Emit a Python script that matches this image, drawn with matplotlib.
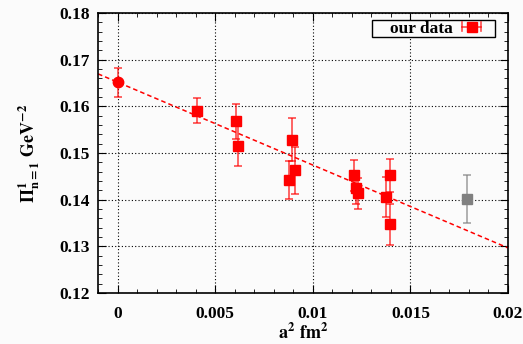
import numpy as np
import matplotlib
matplotlib.use("Agg")
import matplotlib.pyplot as plt
from matplotlib.ticker import MultipleLocator
from matplotlib.legend_handler import HandlerBase
from matplotlib.lines import Line2D
from matplotlib.patches import Rectangle

plt.rcParams['font.family'] = ['Liberation Serif', 'DejaVu Serif']
plt.rcParams['font.weight'] = 'bold'
plt.rcParams['mathtext.fontset'] = 'stix'

# lattice data (a^2 in fm^2)
a2 = [0.00407, 0.00609, 0.00617, 0.00893, 0.00910, 0.00880,
      0.01212, 0.01222, 0.01233, 0.01377, 0.01398, 0.01394]
pi_val = [0.1591, 0.1568, 0.1516, 0.1529, 0.1463, 0.1443,
          0.1452, 0.1426, 0.1414, 0.1406, 0.1452, 0.1347]
pi_err = [0.0027, 0.0038, 0.0043, 0.0047, 0.0051, 0.0041,
          0.0034, 0.0035, 0.0033, 0.0042, 0.0035, 0.0043]

# continuum extrapolation
a2_cont = 0.0
pi_cont = 0.1652
pi_cont_err = 0.0031

# excluded point
a2_excl = 0.01788
pi_excl = 0.1402
pi_excl_err = 0.0051

# linear fit
fit_a = 0.1652
fit_b = -1.776

RED_BAR = (1, 0, 0, 0.7)


class KeyHandler(HandlerBase):
    # gnuplot-like key sample: horizontal bar with caps and a square
    def create_artists(self, legend, orig_handle, xdescent, ydescent,
                       width, height, fontsize, trans):
        y = height / 2 - ydescent
        x0, x1 = -xdescent, width - xdescent
        xm = (x0 + x1) / 2
        bar = Line2D([x0, x1], [y, y], color=RED_BAR, lw=1.2, transform=trans)
        c1 = Line2D([x0, x0], [y - 3, y + 3], color=RED_BAR, lw=1.2, transform=trans)
        c2 = Line2D([x1, x1], [y - 3, y + 3], color=RED_BAR, lw=1.2, transform=trans)
        sq = Line2D([xm], [y], marker='s', ms=7.2, color='red', ls='none', transform=trans)
        return [bar, c1, c2, sq]


fig = plt.figure(figsize=(5.23, 3.44), dpi=100, facecolor='#fbfbfb')
ax = fig.add_axes([0.1874, 0.148, 0.7839, 0.814])
ax.set_facecolor('#fbfbfb')

xx = np.array([-0.001, 0.02])
ax.plot(xx, fit_a + fit_b * xx, '--', color='red', lw=1.1, dashes=(3, 2), zorder=2)

h = ax.errorbar(a2, pi_val, yerr=pi_err, fmt='s', color='red', ms=7.2,
                ecolor=RED_BAR, elinewidth=1.2, capsize=3, capthick=1.2, zorder=3)
ax.errorbar([a2_cont], [pi_cont], yerr=[pi_cont_err], fmt='o', color='red', ms=7.5,
            ecolor=RED_BAR, elinewidth=1.2, capsize=3, capthick=1.2, zorder=3)
ax.errorbar([a2_excl], [pi_excl], yerr=[pi_excl_err], fmt='s', color='#808080', ms=7.2,
            ecolor=(0.5, 0.5, 0.5, 0.7), elinewidth=1.2, capsize=3, capthick=1.2, zorder=3)

ax.set_xlim(-0.001, 0.02)
ax.set_ylim(0.12, 0.18)
ax.xaxis.set_minor_locator(MultipleLocator(0.001))
ax.yaxis.set_minor_locator(MultipleLocator(0.002))
ax.set_xticks([0, 0.005, 0.01, 0.015, 0.02])
ax.set_xticklabels(['0', '0.005', '0.01', '0.015', '0.02'])
ax.set_yticks([0.12, 0.13, 0.14, 0.15, 0.16, 0.17, 0.18])
ax.set_yticklabels(['0.12', '0.13', '0.14', '0.15', '0.16', '0.17', '0.18'])
ax.tick_params(which='both', direction='in', top=True, right=True, labelsize=12.5)
ax.tick_params(which='major', length=6)
ax.tick_params(which='minor', length=3)
ax.tick_params(axis='x', pad=9)
ax.tick_params(axis='y', pad=6)
ax.grid(True, which='major', color='black', linestyle=(0, (1, 2)), lw=0.8)
for s in ax.spines.values():
    s.set_linewidth(1.2)

ax.set_xlabel(r'$\mathbf{a^2\ fm^2}$', fontsize=13, labelpad=1)
ax.set_ylabel(r'$\mathbf{\Pi^1_{n=1}\ GeV^{-2}}$', fontsize=13, labelpad=12)

# key: frameless legend plus a separate box, as gnuplot draws it
leg = ax.legend([h], ['our data'], handler_map={type(h): KeyHandler()},
                loc='center left', frameon=False, fontsize=12.5,
                markerfirst=False, handlelength=1.1, handletextpad=0.55,
                borderpad=0, borderaxespad=0, bbox_to_anchor=(0.712, 0.9445))
ax.add_patch(Rectangle((0.668, 0.914), 0.300, 0.061, transform=ax.transAxes,
                       fill=True, facecolor='#fbfbfb', edgecolor='black',
                       lw=1.0, zorder=4))
leg.set_zorder(5)

fig.savefig('out.png', dpi=100, facecolor=fig.get_facecolor())
